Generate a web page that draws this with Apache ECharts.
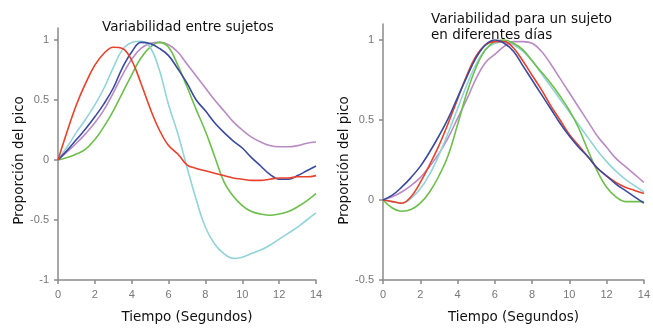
<!DOCTYPE html>
<html>
<head>
<meta charset="utf-8">
<script src="https://cdn.jsdelivr.net/npm/echarts@6/dist/echarts.min.js"></script>
<style>html,body{margin:0;padding:0;background:#fff;}#c{width:653px;height:329px;}</style>
</head>
<body>
<div id="c"></div>
<script>
// Time (seconds)
const times = [0,0.5,1,1.5,2,2.5,3,3.5,4,4.5,5,5.5,6,6.5,7,7.5,8,8.5,9,9.5,10,10.5,11,11.5,12,12.5,13,13.5,14];

// Left panel: between-subject variability
const leftRed    = [0,0.24,0.46,0.64,0.79,0.89,0.94,0.93,0.83,0.64,0.43,0.25,0.12,0.05,-0.04,-0.07,-0.09,-0.11,-0.13,-0.15,-0.16,-0.17,-0.17,-0.16,-0.15,-0.15,-0.14,-0.14,-0.13];
const leftCyan   = [0,0.11,0.23,0.34,0.46,0.60,0.77,0.92,0.98,0.99,0.94,0.75,0.46,0.22,-0.06,-0.33,-0.56,-0.70,-0.78,-0.82,-0.81,-0.78,-0.75,-0.71,-0.66,-0.61,-0.56,-0.50,-0.44];
const leftBlue   = [0,0.08,0.17,0.26,0.36,0.47,0.60,0.77,0.90,0.98,0.97,0.93,0.87,0.76,0.64,0.50,0.41,0.31,0.23,0.16,0.10,0.02,-0.05,-0.12,-0.16,-0.16,-0.13,-0.09,-0.05];
const leftPurple = [0,0.07,0.14,0.22,0.31,0.42,0.56,0.71,0.84,0.93,0.97,0.98,0.96,0.90,0.80,0.70,0.60,0.50,0.41,0.32,0.25,0.19,0.15,0.12,0.11,0.11,0.12,0.14,0.15];
const leftGreen  = [0,0.02,0.05,0.09,0.17,0.28,0.41,0.56,0.71,0.85,0.94,0.98,0.94,0.79,0.61,0.42,0.24,0.03,-0.18,-0.30,-0.38,-0.43,-0.45,-0.46,-0.45,-0.43,-0.39,-0.34,-0.28];

// Right panel: one subject on different days
const rightBlue   = [0,0.03,0.08,0.14,0.21,0.30,0.40,0.51,0.64,0.77,0.89,0.97,1.0,0.98,0.93,0.84,0.75,0.66,0.57,0.48,0.40,0.33,0.27,0.20,0.15,0.10,0.06,0.02,-0.02];
const rightRed    = [0,-0.01,-0.02,0.02,0.11,0.22,0.34,0.48,0.63,0.78,0.90,0.97,0.99,0.99,0.95,0.87,0.78,0.69,0.59,0.50,0.41,0.34,0.27,0.20,0.15,0.11,0.08,0.06,0.04];
const rightGreen  = [0,-0.05,-0.07,-0.06,-0.02,0.05,0.15,0.28,0.47,0.67,0.83,0.94,0.99,1.0,0.98,0.94,0.87,0.80,0.73,0.65,0.56,0.45,0.31,0.18,0.08,0.02,-0.01,-0.01,-0.01];
const rightCyan   = [0,-0.01,-0.02,0.01,0.07,0.16,0.28,0.42,0.57,0.72,0.85,0.94,0.98,0.99,0.97,0.93,0.87,0.79,0.71,0.63,0.55,0.47,0.39,0.31,0.24,0.18,0.13,0.09,0.05];
const rightPurple = [0,0.02,0.05,0.09,0.14,0.21,0.29,0.39,0.51,0.63,0.76,0.86,0.91,0.96,0.99,0.99,0.98,0.93,0.85,0.76,0.67,0.58,0.49,0.40,0.33,0.26,0.21,0.16,0.11];

const xTicks = [0,2,4,6,8,10,12,14];
const leftYTicks = [-1,-0.5,0,0.5,1];
const rightYTicks = [-0.5,0,0.5,1];

const titleLeft = 'Variabilidad entre sujetos';
const titleRight = 'Variabilidad para un sujeto\nen diferentes días';
const xName = 'Tiempo (Segundos)';
const yName = 'Proporción del pico';

const C = {red:'#e8412c', cyan:'#92d3d8', blue:'#3b4a9e', purple:'#b98bc4', green:'#6dbf4c'};
const axisCol = '#8a8a8a';

function pairs(arr){ return times.map((t,i)=>[t,arr[i]]); }
function line(arr, color, idx){
  return {type:'line', xAxisIndex:idx, yAxisIndex:idx, data:pairs(arr), smooth:0.4, showSymbol:false,
    lineStyle:{color:color, width:1.6}, itemStyle:{color:color}, z: 2};
}
function xAxis(idx){
  return {type:'value', gridIndex:idx, min:0, max:14, interval:2,
    name:xName, nameLocation:'middle', nameGap:30,
    nameTextStyle:{fontFamily:'DejaVu Sans', fontSize:13.5, color:'#111'},
    axisLine:{show:true, onZero:false, lineStyle:{color:axisCol, width:1.5}},
    axisTick:{show:true, length:4, lineStyle:{color:axisCol, width:1.5}, customValues:xTicks},
    axisLabel:{fontFamily:'Liberation Sans', fontSize:11, color:'#777', margin:9, customValues:xTicks},
    splitLine:{show:false}};
}
function yAxis(idx, min, ticks, gap, pad){
  return {type:'value', gridIndex:idx, min:min, max:1.1,
    name:yName, nameLocation:'middle', nameGap:gap,
    nameTextStyle:{fontFamily:'DejaVu Sans', fontSize:13.5, color:'#111', padding:[0,pad,0,0]},
    axisLine:{show:true, onZero:false, lineStyle:{color:axisCol, width:1.5}},
    axisTick:{show:true, length:4, lineStyle:{color:axisCol, width:1.5}, customValues:ticks},
    axisLabel:{fontFamily:'Liberation Sans', fontSize:11, color:'#777', margin:9, customValues:ticks,
      formatter: v => String(v)},
    splitLine:{show:false}};
}

const chart = echarts.init(document.getElementById('c'), null, {renderer:'canvas'});
chart.setOption({
  animation:false,
  backgroundColor:'#fff',
  title:[
    {text:titleLeft, left:97, top:15, textStyle:{fontFamily:'DejaVu Sans', fontSize:13.5, fontWeight:'normal', color:'#111'}},
    {text:titleRight, left:426, top:6, textStyle:{fontFamily:'DejaVu Sans', fontSize:13.5, fontWeight:'normal', color:'#111', lineHeight:16}}
  ],
  grid:[
    {left:58, top:28, width:258, height:255},
    {left:383, top:24, width:263, height:259}
  ],
  xAxis:[xAxis(0), xAxis(1)],
  yAxis:[yAxis(0,-1,leftYTicks,32,13), yAxis(1,-0.5,rightYTicks,31,17)],
  series:[
    line(leftPurple, C.purple, 0),
    line(leftGreen, C.green, 0),
    line(leftCyan, C.cyan, 0),
    line(leftBlue, C.blue, 0),
    line(leftRed, C.red, 0),
    line(rightPurple, C.purple, 1),
    line(rightCyan, C.cyan, 1),
    line(rightGreen, C.green, 1),
    line(rightRed, C.red, 1),
    line(rightBlue, C.blue, 1)
  ]
});
</script>
</body>
</html>
